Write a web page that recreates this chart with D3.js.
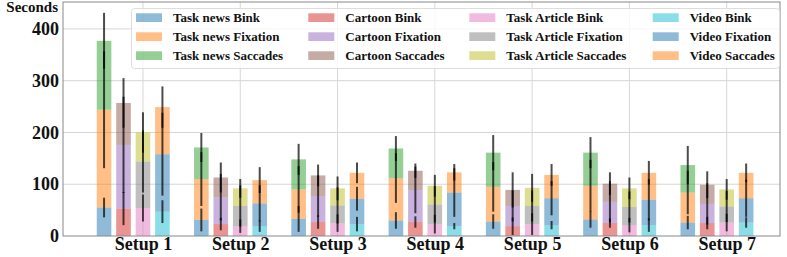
<!DOCTYPE html>
<html>
<head>
<meta charset="utf-8">
<script src="https://cdn.jsdelivr.net/npm/d3@7"></script>
<style>
  body { margin: 0; background: #fff; }
  text { font-family: "Liberation Serif", "Times New Roman", serif; font-weight: bold; fill: #111; }
</style>
</head>
<body>
<svg id="chart" width="787" height="257"></svg>
<script>
const setups = ["Setup 1", "Setup 2", "Setup 3", "Setup 4", "Setup 5", "Setup 6", "Setup 7"];
const yTicks = [0, 100, 200, 300, 400];

// stacked segment values (seconds)
const newsBlink = [55, 31, 33, 30, 28, 32, 26];
const newsFix = [189, 79, 57, 82, 67, 65, 58];
const newsSac = [133, 61, 58, 57, 66, 64, 53];
const cartBlink = [53, 23, 27, 27, 19, 25, 25];
const cartFix = [123, 52, 50, 62, 39, 41, 37];
const cartSac = [81, 38, 40, 37, 31, 35, 37];
const artBlink = [54, 19, 25, 23, 23, 21, 26];
const artFix = [90, 39, 34, 38, 35, 35, 31];
const artSac = [56, 34, 33, 36, 35, 36, 33];
const vidBlink = [47, 19, 23, 19, 21, 21, 26];
const vidFix = [111, 44, 49, 65, 52, 49, 47];
const vidSac = [91, 45, 50, 39, 45, 52, 49];

// standard deviations
const newsBlinkErr = [19, 22, 25, 16, 14, 16, 13];
const newsFixErr = [113, 52, 45, 48, 48, 50, 42];
const newsSacErr = [54, 28, 30, 24, 34, 30, 37];
const cartBlinkErr = [32, 12, 13, 11, 17, 9, 12];
const cartFixErr = [93, 45, 40, 45, 30, 40, 40];
const cartSacErr = [48, 29, 21, 14, 34, 22, 26];
const artBlinkErr = [26, 13, 17, 18, 21, 14, 17];
const artFixErr = [60, 40, 35, 35, 30, 30, 30];
const artSacErr = [39, 18, 23, 21, 27, 21, 20];
const vidBlinkErr = [22, 11, 14, 6, 8, 13, 10];
const vidFixErr = [80, 35, 23, 47, 33, 40, 36];
const vidSacErr = [40, 25, 20, 16, 21, 23, 18];

const groups = [
  { name: "Task news", offset: -0.4, colors: ["#1f77b4", "#ff7f0e", "#2ca02c"],
    values: [newsBlink, newsFix, newsSac], errs: [newsBlinkErr, newsFixErr, newsSacErr] },
  { name: "Cartoon", offset: -0.2, colors: ["#d62728", "#9467bd", "#8c564b"],
    values: [cartBlink, cartFix, cartSac], errs: [cartBlinkErr, cartFixErr, cartSacErr] },
  { name: "Task Article", offset: 0, colors: ["#e377c2", "#7f7f7f", "#bcbd22"],
    values: [artBlink, artFix, artSac], errs: [artBlinkErr, artFixErr, artSacErr] },
  { name: "Video", offset: 0.2, colors: ["#17becf", "#1f77b4", "#ff7f0e"],
    values: [vidBlink, vidFix, vidSac], errs: [vidBlinkErr, vidFixErr, vidSacErr] }
];
const parts = ["Bink", "Fixation", "Saccades"];

const width = 787, height = 257;
const margin = { left: 63, right: 7, top: 2, bottom: 21 };
const barWidth = 0.15;

const svg = d3.select("#chart");

const xScale = d3.scaleLinear([0.178, 7.548], [margin.left, width - margin.right]);
const yScale = d3.scaleLinear([0, 452], [height - margin.bottom, margin.top]);

// grid
svg.append("g")
    .selectAll("line")
    .data(yTicks.slice(1))
    .join("line")
    .attr("x1", margin.left).attr("x2", width - margin.right)
    .attr("y1", d => yScale(d)).attr("y2", d => yScale(d))
    .attr("stroke", "#d6d6d6").attr("stroke-width", 1);

svg.append("g")
    .selectAll("line")
    .data(setups)
    .join("line")
    .attr("x1", (d, i) => xScale(i + 1)).attr("x2", (d, i) => xScale(i + 1))
    .attr("y1", margin.top).attr("y2", height - margin.bottom)
    .attr("stroke", "#d6d6d6").attr("stroke-width", 1);

// bars
const barLayer = svg.append("g");
const errLayer = svg.append("g");

groups.forEach(g => {
    setups.forEach((s, i) => {
        let base = 0;
        const xc = i + 1 + g.offset;
        g.values.forEach((vals, k) => {
            const top = base + vals[i];
            barLayer.append("rect")
                .attr("x", xScale(xc - barWidth / 2))
                .attr("width", xScale(xc + barWidth / 2) - xScale(xc - barWidth / 2))
                .attr("y", yScale(top))
                .attr("height", yScale(base) - yScale(top))
                .attr("fill", g.colors[k])
                .attr("fill-opacity", 0.5);
            const e = g.errs[k][i];
            errLayer.append("line")
                .attr("x1", xScale(xc)).attr("x2", xScale(xc))
                .attr("y1", yScale(Math.max(0, top - e)))
                .attr("y2", yScale(top + e))
                .attr("stroke", "#000")
                .attr("stroke-opacity", 0.7)
                .attr("stroke-width", 2);
            base = top;
        });
    });
});

// frame
svg.append("rect")
    .attr("x", margin.left).attr("y", margin.top)
    .attr("width", width - margin.right - margin.left)
    .attr("height", height - margin.bottom - margin.top)
    .attr("fill", "none").attr("stroke", "#888").attr("stroke-width", 1);

// axes
const yAxis = svg.append("g")
    .attr("transform", `translate(${margin.left}, 0)`)
    .call(d3.axisLeft(yScale).tickValues(yTicks).tickSize(0).tickPadding(4));
yAxis.select(".domain").remove();
yAxis.selectAll("text").style("font-size", "18px");

const xAxis = svg.append("g")
    .attr("transform", `translate(0, ${height - margin.bottom})`)
    .call(d3.axisBottom(xScale).tickValues(d3.range(1, setups.length + 1))
        .tickFormat(d => setups[d - 1]).tickSize(0).tickPadding(1));
xAxis.select(".domain").remove();
xAxis.selectAll("text").style("font-size", "18px");

svg.append("text")
    .attr("x", 58).attr("y", 12)
    .attr("text-anchor", "end")
    .style("font-size", "15px")
    .text("Seconds");

// legend
const legend = svg.append("g");
legend.append("rect")
    .attr("x", 131.5).attr("y", 8.5)
    .attr("width", 648).attr("height", 60)
    .attr("rx", 3)
    .attr("fill", "#fff").attr("fill-opacity", 0.8)
    .attr("stroke", "#ddd");

const colX = [136, 308.3, 469.3, 652.7];
groups.forEach((g, c) => {
    parts.forEach((p, r) => {
        const y0 = 13.3 + r * 19;
        legend.append("rect")
            .attr("x", colX[c]).attr("y", y0)
            .attr("width", 26).attr("height", 8.7)
            .attr("fill", g.colors[r]).attr("fill-opacity", 0.5);
        legend.append("text")
            .attr("x", colX[c] + 37).attr("y", 22.3 + r * 19)
            .style("font-size", "13px")
            .text(`${g.name} ${p}`);
    });
});
</script>
</body>
</html>
